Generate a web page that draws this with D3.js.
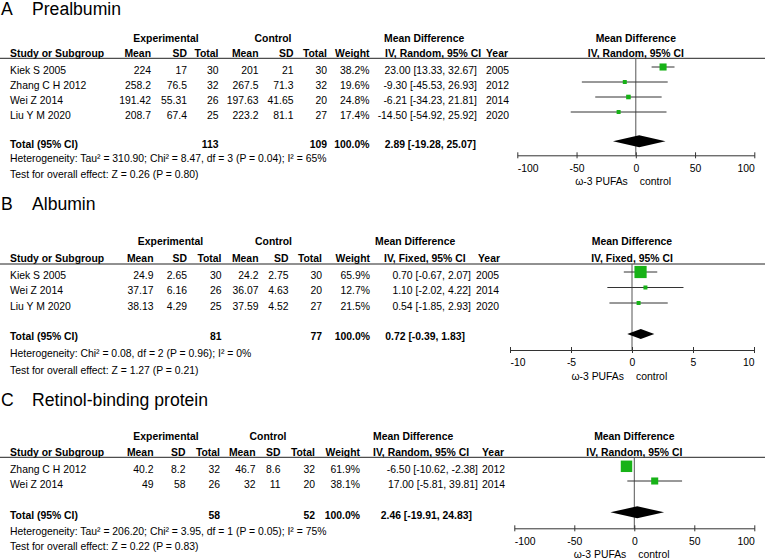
<!DOCTYPE html>
<html><head><meta charset="utf-8">
<script src="https://cdn.jsdelivr.net/npm/d3@7"></script>
<style>
body{margin:0;background:#fff}
svg text{font-family:"Liberation Sans",Arial,Helvetica,sans-serif;fill:#000}
</style>
</head><body>
<svg id="chart" width="765" height="559"></svg>
<script>
// ---------- DATA ----------
const prealbuminRows = [
  {study:"Kiek S 2005",     eM:224,    eSD:17,    eN:30, cM:201,    cSD:21,    cN:30, w:38.2, md:23.00,  lo:13.33,  hi:32.67, year:2005},
  {study:"Zhang C H 2012",  eM:258.2,  eSD:76.5,  eN:32, cM:267.5,  cSD:71.3,  cN:32, w:19.6, md:-9.30,  lo:-45.53, hi:26.93, year:2012},
  {study:"Wei Z 2014",      eM:191.42, eSD:55.31, eN:26, cM:197.63, cSD:41.65, cN:20, w:24.8, md:-6.21,  lo:-34.23, hi:21.81, year:2014},
  {study:"Liu Y M 2020",    eM:208.7,  eSD:67.4,  eN:25, cM:223.2,  cSD:81.1,  cN:27, w:17.4, md:-14.50, lo:-54.92, hi:25.92, year:2020}
];
const prealbuminTotal = {eN:113, cN:109, w:100.0, md:2.89, lo:-19.28, hi:25.07};
const prealbuminNotes = ["Heterogeneity: Tau\u00b2 = 310.90; Chi\u00b2 = 8.47, df = 3 (P = 0.04); I\u00b2 = 65%",
                         "Test for overall effect: Z = 0.26 (P = 0.80)"];

const albuminRows = [
  {study:"Kiek S 2005",   eM:24.9,  eSD:2.65, eN:30, cM:24.2,  cSD:2.75, cN:30, w:65.9, md:0.70, lo:-0.67, hi:2.07, year:2005},
  {study:"Wei Z 2014",    eM:37.17, eSD:6.16, eN:26, cM:36.07, cSD:4.63, cN:20, w:12.7, md:1.10, lo:-2.02, hi:4.22, year:2014},
  {study:"Liu Y M 2020",  eM:38.13, eSD:4.29, eN:25, cM:37.59, cSD:4.52, cN:27, w:21.5, md:0.54, lo:-1.85, hi:2.93, year:2020}
];
const albuminTotal = {eN:81, cN:77, w:100.0, md:0.72, lo:-0.39, hi:1.83};
const albuminNotes = ["Heterogeneity: Chi\u00b2 = 0.08, df = 2 (P = 0.96); I\u00b2 = 0%",
                      "Test for overall effect: Z = 1.27 (P = 0.21)"];

const rbpRows = [
  {study:"Zhang C H 2012", eM:40.2, eSD:8.2, eN:32, cM:46.7, cSD:8.6, cN:32, w:61.9, md:-6.50, lo:-10.62, hi:-2.38, year:2012},
  {study:"Wei Z 2014",     eM:49,   eSD:58,  eN:26, cM:32,   cSD:11,  cN:20, w:38.1, md:17.00, lo:-5.81,  hi:39.81, year:2014}
];
const rbpTotal = {eN:58, cN:52, w:100.0, md:2.46, lo:-19.91, hi:24.83};
const rbpNotes = ["Heterogeneity: Tau\u00b2 = 206.20; Chi\u00b2 = 3.95, df = 1 (P = 0.05); I\u00b2 = 75%",
                  "Test for overall effect: Z = 0.22 (P = 0.83)"];

const ticks100 = [-100, -50, 0, 50, 100];
const ticks10  = [-10, -5, 0, 5, 10];

// ---------- LAYOUT ----------
const panels = [
  {letter:"A", name:"Prealbumin", rows:prealbuminRows, total:prealbuminTotal, notes:prealbuminNotes,
   method:"IV, Random, 95% CI", ticks:ticks100,
   L:{titleY:14.5, h1:42, h2:57, line:58.3, rowY:[73.7,88.7,103.7,118.7], totY:147.7, notesY:[162,177.5],
      axisY:155.3, x0:517.3, x1:754.3,
      c:{eM:151,eSD:187,eN:218.5,cM:258.5,cSD:293.5,cN:327,w:369.5,ci:477,year:486},
      expC:166, ctlC:273, mdH:384, ivH:385, yearH:486, totCi:476, dH:12}},
  {letter:"B", name:"Albumin", rows:albuminRows, total:albuminTotal, notes:albuminNotes,
   method:"IV, Fixed, 95% CI", ticks:ticks10,
   L:{titleY:209.5, h1:245.4, h2:262, line:264, rowY:[278.7,294.2,309.7], totY:340.4, notesY:[357,373.7],
      axisY:350, x0:510, x1:754,
      c:{eM:153.5,eSD:187,eN:221.5,cM:258.5,cSD:288.5,cN:322,w:370,ci:471,year:476},
      expC:170.5, ctlC:273.5, mdH:375, ivH:384, yearH:478, totCi:465, dH:10}},
  {letter:"C", name:"Retinol-binding protein", rows:rbpRows, total:rbpTotal, notes:rbpNotes,
   method:"IV, Random, 95% CI", ticks:ticks100,
   L:{titleY:406.3, h1:439.7, h2:456.4, line:457.3, rowY:[473,487.7], totY:518.7, notesY:[535.4,550.4],
      axisY:528.3, x0:514.3, x1:754.3,
      c:{eM:153.5,eSD:185.5,eN:220,cM:255.5,cSD:280.5,cN:315,w:360,ci:478,year:482},
      expC:166, ctlC:268, mdH:373, ivH:373, yearH:482, totCi:472, dH:12}}
];

const FS = 10.4;
const svg = d3.select("#chart");
const sq = d3.scaleLinear().domain([0,100]).range([0,18.5]);
const green = "#17b217";

function txt(g, x, y, s, anchor, bold, size){
  return g.append("text").attr("x",x).attr("y",y).text(s)
    .attr("text-anchor",anchor||"start")
    .attr("font-size",size||FS)
    .attr("font-weight",bold?"bold":"normal");
}

panels.forEach(p => {
  const L = p.L, g = svg.append("g");
  const x = d3.scaleLinear().domain([p.ticks[0], p.ticks[p.ticks.length-1]]).range([L.x0, L.x1]);
  const fmt2 = v => v.toFixed(2), fmt1 = v => v.toFixed(1);
  const ciStr = d => fmt2(d.md) + " [" + fmt2(d.lo) + ", " + fmt2(d.hi) + "]";

  // title
  txt(g, 1, L.titleY, p.letter, "start", false, 17.6);
  txt(g, 32, L.titleY, p.name, "start", false, 17.6);

  // header row 1
  txt(g, L.expC, L.h1, "Experimental", "middle", true);
  txt(g, L.ctlC, L.h1, "Control", "middle", true);
  txt(g, L.mdH, L.h1, "Mean Difference", "start", true);
  txt(g, x(0), L.h1, "Mean Difference", "middle", true);
  // header row 2
  txt(g, 10, L.h2, "Study or Subgroup", "start", true);
  txt(g, L.c.eM, L.h2, "Mean", "end", true);
  txt(g, L.c.eSD, L.h2, "SD", "end", true);
  txt(g, L.c.eN, L.h2, "Total", "end", true);
  txt(g, L.c.cM, L.h2, "Mean", "end", true);
  txt(g, L.c.cSD, L.h2, "SD", "end", true);
  txt(g, L.c.cN, L.h2, "Total", "end", true);
  txt(g, L.c.w, L.h2, "Weight", "end", true);
  txt(g, L.ivH, L.h2, p.method, "start", true);
  txt(g, L.yearH, L.h2, "Year", "start", true);
  txt(g, x(0), L.h2, p.method, "middle", true);

  g.append("line").attr("x1",0).attr("x2",765).attr("y1",L.line).attr("y2",L.line)
    .attr("stroke","#222").attr("stroke-width",1);

  // zero line
  g.append("line").attr("x1",x(0)).attr("x2",x(0)).attr("y1",L.line).attr("y2",L.axisY)
    .attr("stroke","#555").attr("stroke-width",1);

  // study rows
  p.rows.forEach((d,i) => {
    const y = L.rowY[i];
    txt(g, 10, y, d.study);
    txt(g, L.c.eM, y, String(d.eM), "end");
    txt(g, L.c.eSD, y, String(d.eSD), "end");
    txt(g, L.c.eN, y, String(d.eN), "end");
    txt(g, L.c.cM, y, String(d.cM), "end");
    txt(g, L.c.cSD, y, String(d.cSD), "end");
    txt(g, L.c.cN, y, String(d.cN), "end");
    txt(g, L.c.w, y, fmt1(d.w) + "%", "end");
    txt(g, L.c.ci, y, ciStr(d), "end");
    txt(g, L.c.year, y, String(d.year), "start");
    const my = y - 6.7;
    g.append("line").attr("x1",x(d.lo)).attr("x2",x(d.hi)).attr("y1",my).attr("y2",my)
      .attr("stroke","#333").attr("stroke-width",1);
    const s = Math.max(4, sq(d.w));
    g.append("rect").attr("x",x(d.md)-s/2).attr("y",my-s/2).attr("width",s).attr("height",s)
      .attr("fill",green);
  });

  // total row
  const t = p.total;
  txt(g, 10, L.totY, "Total (95% CI)", "start", true);
  txt(g, L.c.eN, L.totY, String(t.eN), "end", true);
  txt(g, L.c.cN, L.totY, String(t.cN), "end", true);
  txt(g, L.c.w, L.totY, fmt1(t.w) + "%", "end", true);
  txt(g, L.totCi, L.totY, ciStr(t), "end", true);
  const dy = L.totY - 6.4;
  g.append("path")
    .attr("d", `M${x(t.lo)},${dy}L${x(t.md)},${dy-L.dH/2}L${x(t.hi)},${dy}L${x(t.md)},${dy+L.dH/2}Z`)
    .attr("fill","#000");

  // notes
  p.notes.forEach((n,i) => txt(g, 10, L.notesY[i], n));

  // axis
  const ax = g.append("g").attr("transform",`translate(0,${L.axisY})`)
    .call(d3.axisBottom(x).tickValues(p.ticks).tickSizeOuter(0).tickSizeInner(3).tickPadding(6)
      .tickFormat(d3.format("d")));
  ax.select(".domain").attr("stroke","#333");
  ax.selectAll(".tick line").attr("y1",-3).attr("y2",3).attr("stroke","#333");
  ax.selectAll(".tick text").attr("font-size",FS).attr("fill","#000")
    .attr("font-family","Liberation Sans, Arial, sans-serif")
    .attr("text-anchor",(d,i,n) => i===0 ? "start" : (i===n.length-1 ? "end" : "middle"))
    .text(d => d < 0 ? "-" + Math.abs(d) : String(d));
  txt(g, x(0)-8, L.axisY + 29.8, "\u03c9-3 PUFAs", "end");
  txt(g, x(0)+4, L.axisY + 29.8, "control", "start");
});
</script>
</body></html>
